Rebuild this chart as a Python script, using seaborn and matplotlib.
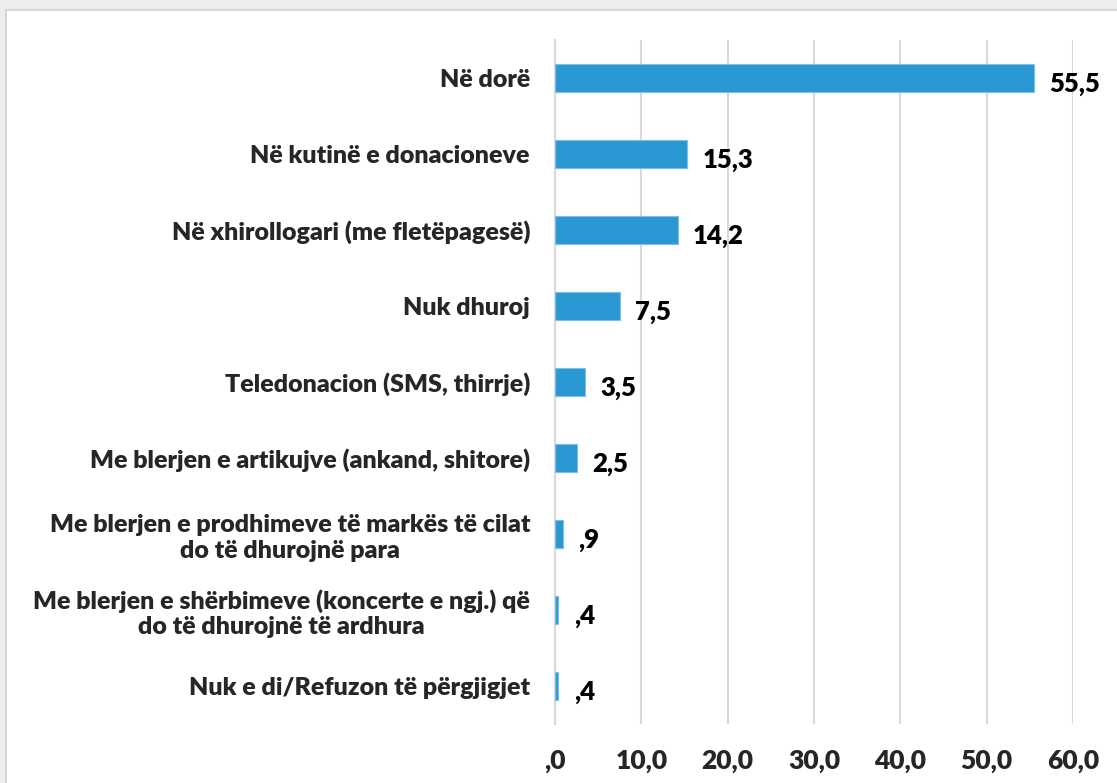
import pandas as pd
import matplotlib
matplotlib.use('Agg')
import matplotlib.pyplot as plt
import seaborn as sns
from matplotlib.ticker import FuncFormatter
from matplotlib.patches import Rectangle

# Të dhënat (përqindje)
kategorite = [
    "Në dorë",
    "Në kutinë e donacioneve",
    "Në xhirollogari (me fletëpagesë)",
    "Nuk dhuroj",
    "Teledonacion (SMS, thirrje)",
    "Me blerjen e artikujve (ankand, shitore)",
    "Me blerjen e prodhimeve të markës të cilat\ndo të dhurojnë para",
    "Me blerjen e shërbimeve (koncerte e ngj.) që\ndo të dhurojnë të ardhura",
    "Nuk e di/Refuzon të përgjigjet",
]
vlerat = [55.5, 15.3, 14.2, 7.5, 3.5, 2.5, 0.9, 0.4, 0.4]
etiketat = ["55,5", "15,3", "14,2", "7,5", "3,5", "2,5", ",9", ",4", ",4"]
x_ticks = [0, 10, 20, 30, 40, 50, 60]

df = pd.DataFrame({"kategoria": kategorite, "vlera": vlerat})

sns.set_style("white")
plt.rcParams['font.family'] = ['Lato', 'DejaVu Sans']
plt.rcParams['font.weight'] = 'heavy'

fig = plt.figure(figsize=(11.17, 7.83), dpi=100, facecolor="#eeeeee")
# panel i bardhë me kornizë gri
fig.patches.append(Rectangle((6 / 1117, -0.01), 1, 1 - 10 / 783 + 0.01,
                             transform=fig.transFigure, facecolor="white",
                             edgecolor="#d6d6d6", linewidth=1.5, zorder=-10))
ax = fig.add_axes([555 / 1117, 59 / 783, 518 / 1117, 684 / 783])
ax.set_facecolor("none")

sns.barplot(data=df, x="vlera", y="kategoria", orient="h", color="#2a98d2",
            saturation=1, width=0.36, edgecolor="#7cc0e6", linewidth=0.8,
            ax=ax, zorder=3)

for i, (v, lab) in enumerate(zip(vlerat, etiketat)):
    ax.text(v + 1.8, i + 0.08, lab, ha="left", va="center",
            fontsize=18.5, fontweight="heavy", color="black")

ax.set_xlim(0, 60)
ax.set_xticks(x_ticks)
ax.xaxis.set_major_formatter(FuncFormatter(lambda x, p: ",0" if x == 0 else f"{x:.1f}".replace(".", ",")))
ax.grid(axis="x", color="#d9d9d9", linewidth=1.5, zorder=0)
ax.tick_params(axis="x", length=0, pad=18, labelsize=19)
ax.tick_params(axis="y", length=0, pad=18, labelsize=18)
for t in ax.get_xticklabels() + ax.get_yticklabels():
    t.set_fontweight("heavy")
for t in ax.get_yticklabels():
    t.set_multialignment("center")
ax.set_xlabel("")
ax.set_ylabel("")
for s in ["top", "right", "bottom"]:
    ax.spines[s].set_visible(False)
ax.spines["left"].set_color("#d9d9d9")
ax.spines["left"].set_linewidth(1.5)

fig.savefig("out.png", dpi=100, facecolor=fig.get_facecolor())
